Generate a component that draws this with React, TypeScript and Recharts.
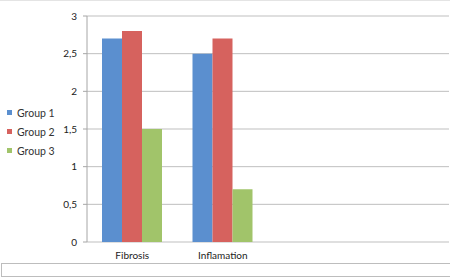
import React from 'react';
import { BarChart, Bar, XAxis, YAxis, CartesianGrid, Legend } from 'recharts';

const categories = ['Fibrosis', 'Inflamation', '', ' '];
const group1 = [2.7, 2.5, null, null];
const group2 = [2.8, 2.7, null, null];
const group3 = [1.5, 0.7, null, null];
const yTicks = [0, 0.5, 1, 1.5, 2, 2.5, 3];
const boundaryTicks = [0, 1, 2, 3, 4];

const seriesNames = ['Group 1', 'Group 2', 'Group 3'];
const colors = ['#5b8fcf', '#d6625e', '#a1c46a'];

const data = categories.map((c, i) => ({
  name: c,
  g1: group1[i],
  g2: group2[i],
  g3: group3[i],
}));

const FONT = 'Lato, "Open Sans", sans-serif';

const LegendContent = () => (
  <div style={{ fontFamily: FONT, fontSize: 10.5, color: '#333' }}>
    {seriesNames.map((n, i) => (
      <div key={n} style={{ display: 'flex', alignItems: 'center', height: 19 }}>
        <span style={{ display: 'inline-block', width: 5, height: 5, background: colors[i], marginRight: 5 }} />
        <span>{n}</span>
      </div>
    ))}
  </div>
);

export default function App() {
  return (
    <div style={{ position: 'absolute', left: 0, top: 0, width: 450, height: 277, background: '#fff', overflow: 'hidden' }}>
      <div style={{ position: 'absolute', left: 0, top: 0, width: 450, height: 1, background: '#e4e4e4' }} />
      <div style={{ position: 'absolute', left: 1, top: 263, width: 449, height: 1, background: '#bdbdbd' }} />
      <div style={{ position: 'absolute', left: 1, top: 276, width: 449, height: 1, background: '#bdbdbd' }} />
      <div style={{ position: 'absolute', left: 1, top: 263, width: 1, height: 14, background: '#bdbdbd' }} />
      <BarChart
        width={450}
        height={277}
        data={data}
        margin={{ top: 16, right: 1, bottom: 0, left: 0 }}
        barCategoryGap={15}
        barGap={0}
      >
        <CartesianGrid horizontal vertical={false} stroke="#bfbfbf" strokeWidth={1} xAxisId="cat" />
        <XAxis
          xAxisId="bnd"
          type="number"
          domain={[0, 4]}
          ticks={boundaryTicks}
          height={0}
          tick={false}
          tickSize={5}
          tickLine={{ stroke: '#a6a6a6' }}
          axisLine={{ stroke: '#a6a6a6' }}
          allowDataOverflow
        />
        <XAxis
          xAxisId="cat"
          dataKey="name"
          height={35}
          tickLine={false}
          axisLine={false}
          tick={{ fontSize: 10, fill: '#222', fontFamily: FONT }}
          tickMargin={4}
          interval={0}
        />
        <YAxis
          width={87}
          domain={[0, 3]}
          ticks={yTicks}
          tickFormatter={(v: number) => String(v).replace('.', ',')}
          tick={{ fontSize: 10, fill: '#222', fontFamily: FONT }}
          tickSize={4}
          tickMargin={6}
          tickLine={{ stroke: '#a6a6a6' }}
          axisLine={{ stroke: '#a6a6a6' }}
        />
        <Legend
          layout="vertical"
          align="center"
          verticalAlign="middle"
          content={<LegendContent />}
          wrapperStyle={{ left: 7, top: 103, width: 70 }}
        />
        <Bar dataKey="g1" name={seriesNames[0]} fill={colors[0]} xAxisId="cat" isAnimationActive={false} />
        <Bar dataKey="g2" name={seriesNames[1]} fill={colors[1]} xAxisId="cat" isAnimationActive={false} />
        <Bar dataKey="g3" name={seriesNames[2]} fill={colors[2]} xAxisId="cat" isAnimationActive={false} />
      </BarChart>
    </div>
  );
}
